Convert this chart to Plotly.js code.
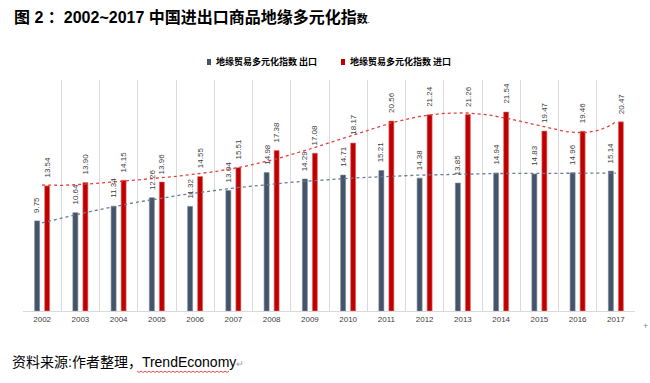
<!DOCTYPE html>
<html><head><meta charset="utf-8">
<script src="https://cdn.plot.ly/plotly-3.0.1.min.js"></script>
<style>html,body{margin:0;padding:0;background:#fff;}#chart{width:650px;height:383px;}</style>
</head><body><div id="chart"></div>
<script>
var years = ['2002','2003','2004','2005','2006','2007','2008','2009','2010','2011','2012','2013','2014','2015','2016','2017'];
var exportVals = [9.75,10.64,11.34,12.26,11.32,13.04,14.98,14.29,14.71,15.21,14.38,13.85,14.94,14.83,14.96,15.14];
var importVals = [13.54,13.90,14.15,13.96,14.55,15.51,17.38,17.08,18.17,20.56,21.24,21.26,21.54,19.47,19.46,20.47];
var exportName = '地缘贸易多元化指数 出口';
var importName = '地缘贸易多元化指数 进口';
var exportLabels = ['9.75','10.64','11.34','12.26','11.32','13.04','14.98','14.29','14.71','15.21','14.38','13.85','14.94','14.83','14.96','15.14'];
var importLabels = ['13.54','13.90','14.15','13.96','14.55','15.51','17.38','17.08','18.17','20.56','21.24','21.26','21.54','19.47','19.46','20.47'];

var BLUE = '#44546A', RED = '#C00000';

// polynomial least-squares trendline (as in spreadsheet trendlines)
function polyfit(ys, deg){
  var n = ys.length, m = deg+1, A = [], b = [];
  for (var r=0;r<m;r++){A.push(new Array(m).fill(0)); b.push(0);}
  for (var i=0;i<n;i++){
    var t = i/(n-1);
    for (var r=0;r<m;r++){
      b[r] += Math.pow(t,r)*ys[i];
      for (var c=0;c<m;c++) A[r][c] += Math.pow(t,r+c);
    }
  }
  for (var k=0;k<m;k++){
    var p=k; for (var r=k+1;r<m;r++) if (Math.abs(A[r][k])>Math.abs(A[p][k])) p=r;
    var tmp=A[k];A[k]=A[p];A[p]=tmp; var tb=b[k];b[k]=b[p];b[p]=tb;
    for (var r=k+1;r<m;r++){var f=A[r][k]/A[k][k]; for (var c=k;c<m;c++) A[r][c]-=f*A[k][c]; b[r]-=f*b[k];}
  }
  var x = new Array(m).fill(0);
  for (var r=m-1;r>=0;r--){var s=b[r]; for (var c=r+1;c<m;c++) s-=A[r][c]*x[c]; x[r]=s/A[r][r];}
  return function(i){var t=i/(n-1), s=0; for (var r=0;r<m;r++) s+=x[r]*Math.pow(t,r); return s;};
}
function trend(ys, deg){
  var f = polyfit(ys, deg), xs=[], vs=[];
  for (var k=0;k<=150;k++){var xi=k*(ys.length-1)/150; xs.push(xi); vs.push(f(xi));}
  return {x:xs,y:vs};
}
var tE = trend(exportVals, 3), tI = trend(importVals, 6);

var traces = [
  {type:'bar', x:years, y:exportVals, name:exportName, marker:{color:BLUE, line:{color:'#7D8899', width:0.6}}, showlegend:false, hoverinfo:'none'},
  {type:'bar', x:years, y:importVals, name:importName, marker:{color:RED, line:{color:'#E07070', width:0.6}}, showlegend:false, hoverinfo:'none'},
  {type:'scatter', mode:'lines', x:tE.x, y:tE.y, xaxis:'x2', line:{color:'#6B7A90', width:1.3, dash:'dot'}, showlegend:false, hoverinfo:'none'},
  {type:'scatter', mode:'lines', x:tI.x, y:tI.y, xaxis:'x2', line:{color:'#E0403A', width:1.3, dash:'dot'}, showlegend:false, hoverinfo:'none'}
];

var L=23, R=635, T=80, B=311, W=650, H=383;
function px(x){return (x-L)/(R-L);}
function py(y){return (B-y)/(B-T);}

// squiggle under TrendEconomy
var sq = 'M '+px(137)+','+py(371);
for (var k=0;k<46;k++){ var xx=137+(k+1)*2; sq += ' L '+px(xx)+','+py(371+((k%2)?0:1.5)); }

var lblFont = {family:'Liberation Sans, Arial, sans-serif', size:8, color:'#404040'};
var legFont = {family:'Noto Sans CJK SC, sans-serif', size:9, color:'#000', weight:'bold'};
var annotations = [
  {xref:'paper', yref:'paper', x:px(214), y:py(62), xanchor:'left', yanchor:'middle', showarrow:false, text:exportName, font:legFont},
  {xref:'paper', yref:'paper', x:px(348), y:py(62), xanchor:'left', yanchor:'middle', showarrow:false, text:importName, font:legFont},
  {xref:'paper', yref:'paper', x:px(10), y:py(362), xanchor:'left', yanchor:'middle', showarrow:false,
   text:'资料来源:作者整理，TrendEconomy<span style="font-size:9px;color:#999">↵</span>',
   font:{family:'Liberation Sans, Noto Sans CJK SC, sans-serif', size:14, color:'#000'}},
  {xref:'paper', yref:'paper', x:px(645), y:py(326), xanchor:'center', yanchor:'middle', showarrow:false,
   text:'+', font:{family:'Liberation Sans, sans-serif', size:9, color:'#888'}}
];
for (var i=0;i<years.length;i++){
  annotations.push({x:i, y:exportVals[i], xref:'x2', yref:'y', xshift:-5, yshift:6, xanchor:'center', yanchor:'bottom',
    textangle:-90, showarrow:false, text:exportLabels[i], font:lblFont});
  annotations.push({x:i, y:importVals[i], xref:'x2', yref:'y', xshift:5, yshift:6, xanchor:'center', yanchor:'bottom',
    textangle:-90, showarrow:false, text:importLabels[i], font:lblFont});
}

var layout = {
  width:W, height:H, margin:{l:L, r:W-R, t:T, b:H-B},
  paper_bgcolor:'#fff', plot_bgcolor:'#fff',
  barmode:'group', bargap:0.477, bargroupgap:0.5,
  showlegend:false,
  title:{text:'图 2 ：2002~2017 中国进出口商品地缘多元化指<span style="font-size:11px">数</span><span style="font-size:6px">.</span>',
    font:{family:'Liberation Sans, Noto Sans CJK SC, sans-serif', size:16, color:'#000', weight:'bold'},
    x:14/W, xanchor:'left', xref:'container', y:1-17/H, yanchor:'middle', yref:'container'},
  xaxis:{type:'category', range:[-0.5,15.5], tickson:'boundaries', showgrid:true, gridcolor:'#D9D9D9', gridwidth:1,
    showline:true, linecolor:'#D9D9D9', ticks:'', fixedrange:true,
    tickfont:{family:'Liberation Sans, Arial, sans-serif', size:8, color:'#404040'}},
  xaxis2:{overlaying:'x', range:[-0.5,15.5], visible:false, fixedrange:true},
  yaxis:{range:[0,25], visible:false, showgrid:false, zeroline:false, fixedrange:true},
  shapes:[
    {type:'rect', xref:'paper', yref:'paper', x0:px(207), x1:px(211), y0:py(59), y1:py(65), fillcolor:BLUE, line:{width:0}},
    {type:'rect', xref:'paper', yref:'paper', x0:px(341), x1:px(345), y0:py(59), y1:py(65), fillcolor:RED, line:{width:0}},
    {type:'path', xref:'paper', yref:'paper', path:sq, line:{color:'#E02020', width:0.8}}
  ],
  annotations:annotations
};
Plotly.newPlot('chart', traces, layout, {staticPlot:true, displayModeBar:false});
</script></body></html>
